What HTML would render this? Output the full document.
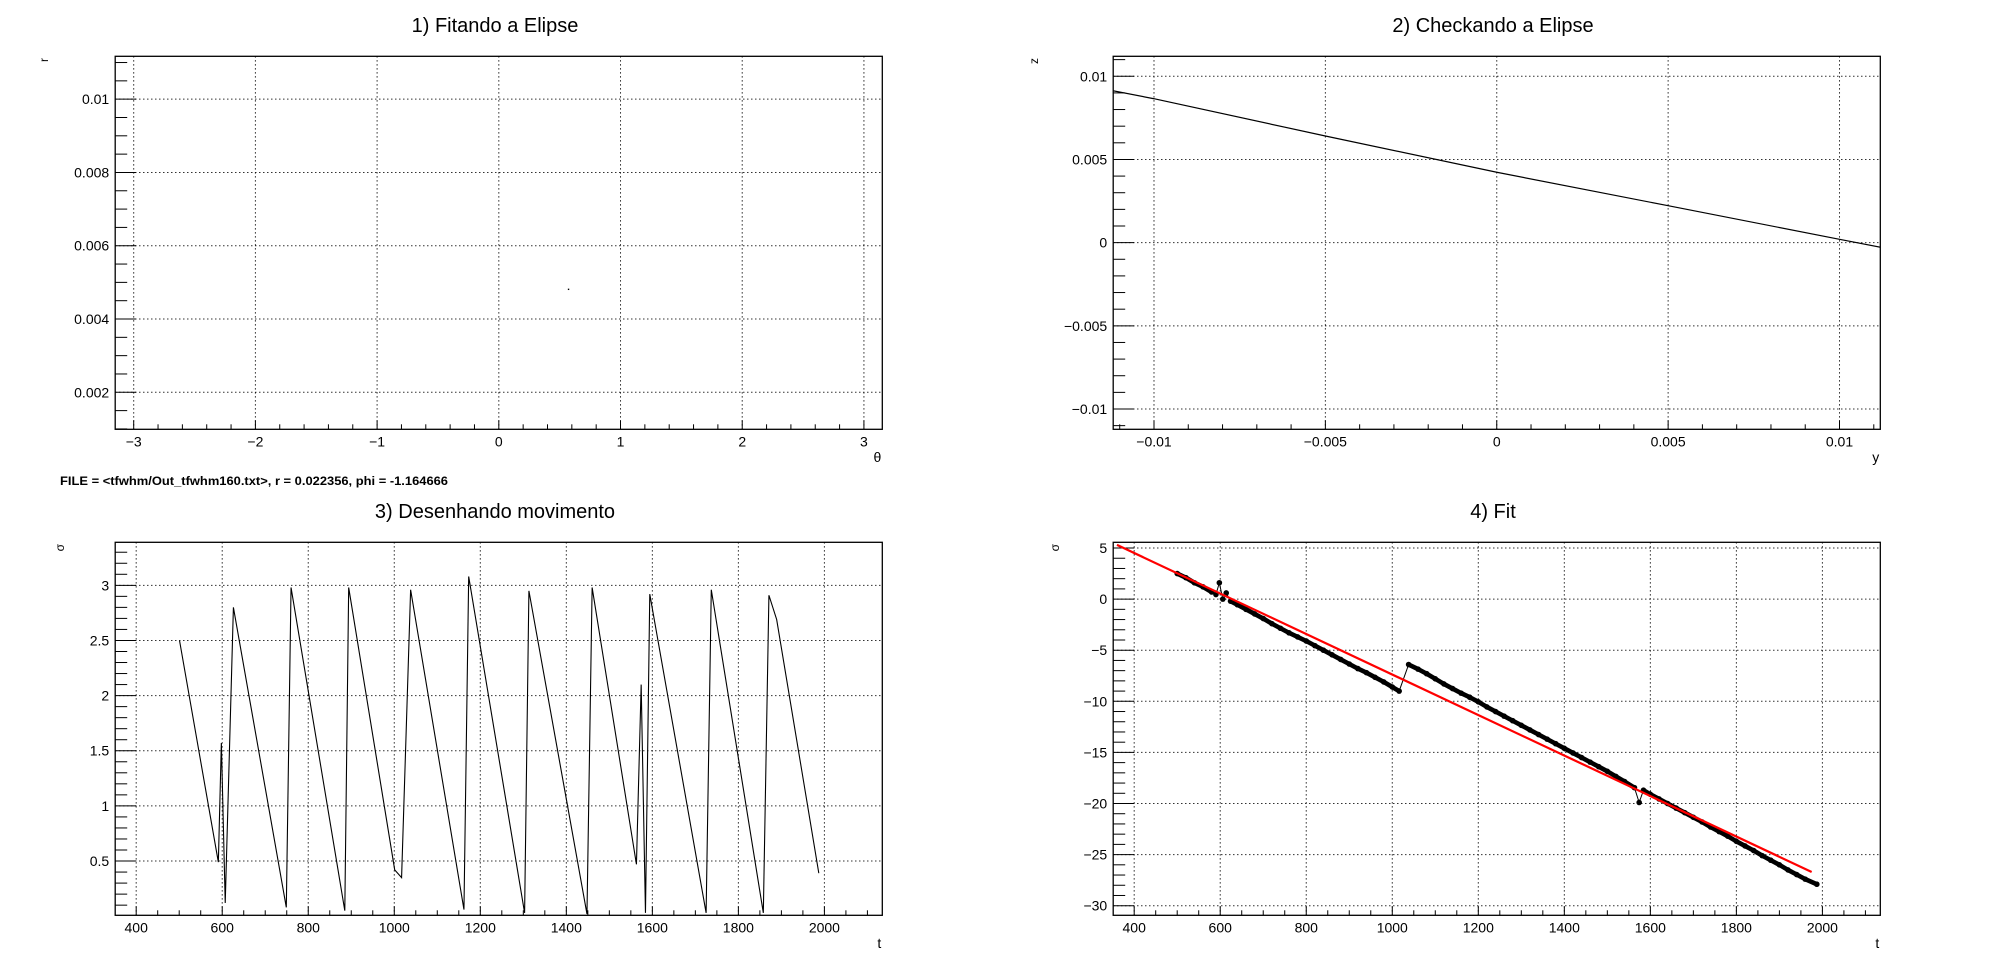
<!DOCTYPE html>
<html><head><meta charset="utf-8"><style>
html,body{margin:0;padding:0;background:#fff;}
svg{display:block;font-family:"Liberation Sans",sans-serif;}
</style></head><body>
<svg id="c" width="1996" height="972" viewBox="0 0 1996 972" xmlns="http://www.w3.org/2000/svg">
<rect x="0" y="0" width="1996" height="972" fill="#fff"/>
<text x="60" y="485" font-size="11.5" font-weight="bold" textLength="388" lengthAdjust="spacingAndGlyphs">FILE = &lt;tfwhm/Out_tfwhm160.txt&gt;, r = 0.022356, phi = -1.164666</text>
</svg>
<script>
// Panel 1: single point
const p1Theta = [0.573];
const p1R = [0.00481];
// Panel 2: z vs y
const p2Y = [-0.0112, -0.01, -0.005, 0, 0.005, 0.01, 0.0112];
const p2Z = [0.00913, 0.00865, 0.00641, 0.00423, 0.00222, 0.0002, -0.00028];
// Panel 3: sigma vs t
const p3T = [500.7,591,598,607,626,749,760,885,894,1001,1017,1038,1162,1173,1303,1313,1448,1460,1563,1574,1584,1594,1725,1737,1858,1871,1889,1987];
const p3S = [2.50,0.49,1.57,0.12,2.80,0.08,2.98,0.05,2.98,0.42,0.35,2.96,0.06,3.08,0.03,2.95,0.02,2.98,0.47,2.10,0.03,2.92,0.03,2.96,0.03,2.91,2.69,0.39];
// Panel 4: unwrapped sigma vs t
const p4T = [500,520,540,560,580,590,598,606,614,624,640,660,680,700,720,740,760,780,800,820,840,860,880,900,920,940,960,980,1000,1016,1038,1060,1080,1100,1120,1140,1160,1180,1200,1220,1240,1260,1280,1300,1320,1340,1360,1380,1400,1420,1440,1460,1480,1500,1520,1540,1563,1574,1584,1600,1620,1640,1660,1680,1700,1720,1740,1760,1780,1800,1820,1840,1860,1880,1900,1920,1940,1960,1987];
const p4S = [2.5,2.1,1.6,1.2,0.7,0.45,1.6,0.0,0.6,-0.2,-0.55,-1.0,-1.45,-1.9,-2.4,-2.85,-3.3,-3.7,-4.1,-4.55,-5.0,-5.45,-5.9,-6.35,-6.8,-7.2,-7.65,-8.1,-8.6,-9.0,-6.4,-6.85,-7.3,-7.8,-8.3,-8.75,-9.2,-9.6,-10.05,-10.55,-11.0,-11.45,-11.9,-12.35,-12.8,-13.25,-13.7,-14.15,-14.6,-15.05,-15.5,-15.95,-16.4,-16.85,-17.35,-17.85,-18.45,-19.9,-18.7,-19.1,-19.55,-20.0,-20.45,-20.9,-21.35,-21.8,-22.3,-22.75,-23.2,-23.7,-24.15,-24.6,-25.1,-25.55,-26.0,-26.5,-26.95,-27.4,-27.9];
const fitT = [360, 1975];
const fitIntercept = 12.44;
const fitSlope = -0.01982;

const NS = "http://www.w3.org/2000/svg";
const svg = document.getElementById('c');
function mk(tag, attrs, parent) {
  const e = document.createElementNS(NS, tag);
  for (const k in attrs) e.setAttribute(k, attrs[k]);
  (parent || svg).appendChild(e);
  return e;
}
function fmt(v, dec) {
  if (Math.abs(v) < 1e-12) return "0";
  let s = v.toFixed(dec);
  if (s.indexOf('.') >= 0) s = s.replace(/0+$/, "").replace(/\.$/, "");
  return s.replace("-", "\u2212");
}
function makePanel(o) {
  const g = mk('g', {});
  
  
  const L = o.ox + 115.2, R = o.ox + 882.3, T = o.oy + 56.3, B = o.oy + 429.3;
  const sx = v => L + (v - o.xmin) / (o.xmax - o.xmin) * (R - L);
  const sy = v => B - (v - o.ymin) / (o.ymax - o.ymin) * (B - T);
  const t = mk('text', {x: o.ox + 495, y: o.oy + 32, 'font-size': 20, 'text-anchor': 'middle'}, g);
  t.textContent = o.title;
  
  
  const xt = mk('g', {}, g);
  
  
  const nx0 = Math.ceil(o.xmin / o.xminor - 1e-6), nx1 = Math.floor(o.xmax / o.xminor + 1e-6);
  for (let i = nx0; i <= nx1; i++) {
    const v = i * o.xminor, X = sx(v);
    const major = Math.abs(i % o.xsub) < 1e-9;
    mk('line', {x1: X, x2: X, y1: B, y2: B - (major ? 9 : 5), stroke: '#000', 'stroke-width': 1}, xt);
    if (major) {
      mk('line', {x1: X, x2: X, y1: T, y2: B, stroke: '#000', 'stroke-width': 1, 'stroke-dasharray': '1.2,2.8'}, xt);
      const lb = mk('text', {x: X, y: B + 17, 'font-size': 14, 'text-anchor': 'middle'}, xt);
      lb.textContent = fmt(v, o.xdec);
      
      
    }
  }
  const yt = mk('g', {}, g);
  
  
  const ny0 = Math.ceil(o.ymin / o.yminor - 1e-6), ny1 = Math.floor(o.ymax / o.yminor + 1e-6);
  for (let i = ny0; i <= ny1; i++) {
    const v = i * o.yminor, Y = sy(v);
    const major = Math.abs(i % o.ysub) < 1e-9;
    mk('line', {x1: L, x2: L + (major ? 21 : 12), y1: Y, y2: Y, stroke: '#000', 'stroke-width': 1}, yt);
    if (major) {
      mk('line', {x1: L, x2: R, y1: Y, y2: Y, stroke: '#000', 'stroke-width': 1, 'stroke-dasharray': '1.2,2.8'}, yt);
      const lb = mk('text', {x: L - 6, y: Y + 5, 'font-size': 14, 'text-anchor': 'end'}, yt);
      lb.textContent = fmt(v, o.ydec);
      
      
    }
  }
  mk('rect', {x: L, y: T, width: R - L, height: B - T, fill: 'none', stroke: '#000', 'stroke-width': 1.3}, g);
  const xl = mk('text', {x: R - 1, y: o.oy + 462, 'font-size': 14, 'text-anchor': 'end'}, g);
  xl.textContent = o.xtitle;
  
  
  const yx = o.ox + o.ytx, yy = o.oy + 58;
  const yl = mk('text', {x: yx, y: yy, 'font-size': 12, 'text-anchor': 'end', transform: `rotate(-90 ${yx} ${yy})`}, g);
  yl.textContent = o.ytitle;
  
  
  const clip = mk('clipPath', {id: 'clip-' + o.name}, g);
  mk('rect', {x: L, y: T, width: R - L, height: B - T}, clip);
  const dg = mk('g', {'clip-path': `url(#clip-${o.name})`}, g);
  return {sx, sy, dg};
}
const P1 = makePanel({name: 'panel-1-fitando', ox: 0, oy: 0, title: '1) Fitando a Elipse', xmin: -3.152, xmax: 3.151, ymin: 0.00099, ymax: 0.01117, xminor: 0.2, xsub: 5, yminor: 0.0005, ysub: 4, xdec: 0, ydec: 3, xtitle: '\u03b8', ytitle: 'r', ytx: 48});
p1Theta.forEach((v, i) => {
  const c = mk('rect', {x: P1.sx(v) - 0.7, y: P1.sy(p1R[i]) - 0.7, width: 1.4, height: 1.4, fill: '#000'}, P1.dg);
  
  
});
const P2 = makePanel({name: 'panel-2-checkando', ox: 998, oy: 0, title: '2) Checkando a Elipse', xmin: -0.01119, xmax: 0.01119, ymin: -0.01122, ymax: 0.0112, xminor: 0.001, xsub: 5, yminor: 0.001, ysub: 5, xdec: 3, ydec: 3, xtitle: 'y', ytitle: 'z', ytx: 40});
const l2 = mk('polyline', {points: p2Y.map((v, i) => P2.sx(v) + ',' + P2.sy(p2Z[i])).join(' '), fill: 'none', stroke: '#000', 'stroke-width': 1.2}, P2.dg);


const P3 = makePanel({name: 'panel-3-movimento', ox: 0, oy: 486, title: '3) Desenhando movimento', xmin: 351.2, xmax: 2134.6, ymin: 0.008, ymax: 3.39, xminor: 50, xsub: 4, yminor: 0.1, ysub: 5, xdec: 0, ydec: 1, xtitle: 't', ytitle: '\u03c3', ytx: 64});
const l3 = mk('polyline', {points: p3T.map((v, i) => P3.sx(v) + ',' + P3.sy(p3S[i])).join(' '), fill: 'none', stroke: '#000', 'stroke-width': 1.1}, P3.dg);


const P4 = makePanel({name: 'panel-4-fit', ox: 998, oy: 486, title: '4) Fit', xmin: 351.2, xmax: 2134.6, ymin: -30.94, ymax: 5.56, xminor: 50, xsub: 4, yminor: 1, ysub: 5, xdec: 0, ydec: 0, xtitle: 't', ytitle: '\u03c3', ytx: 61});
const thin = mk('polyline', {points: p4T.map((v, i) => P4.sx(v) + ',' + P4.sy(p4S[i])).join(' '), fill: 'none', stroke: '#000', 'stroke-width': 1}, P4.dg);


for (let i = 1; i < p4T.length; i++) {
  if (p4T[i] - p4T[i - 1] >= 14 && Math.abs(p4S[i] - p4S[i - 1]) < 1) {
    const s = mk('line', {x1: P4.sx(p4T[i - 1]), y1: P4.sy(p4S[i - 1]), x2: P4.sx(p4T[i]), y2: P4.sy(p4S[i]), stroke: '#000', 'stroke-width': 4.6, 'stroke-linecap': 'round'}, P4.dg);
    
    
  }
}
p4T.forEach((v, i) => {
  const c = mk('circle', {cx: P4.sx(v), cy: P4.sy(p4S[i]), r: 2.8, fill: '#000'}, P4.dg);
  
  
});
const fl = mk('line', {x1: P4.sx(fitT[0]), y1: P4.sy(fitIntercept + fitSlope * fitT[0]), x2: P4.sx(fitT[1]), y2: P4.sy(fitIntercept + fitSlope * fitT[1]), stroke: '#f00', 'stroke-width': 2.2}, P4.dg);


</script>
</body></html>
